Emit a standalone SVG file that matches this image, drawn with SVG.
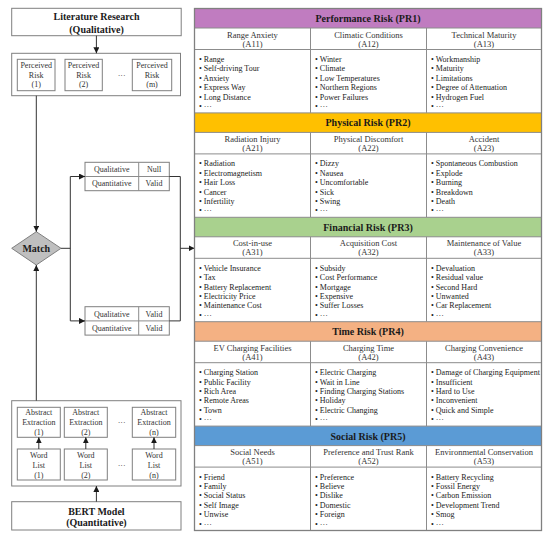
<svg xmlns="http://www.w3.org/2000/svg" width="550" height="538" viewBox="0 0 550 538">
<defs>
<marker id="ah" markerUnits="userSpaceOnUse" markerWidth="6" markerHeight="6" refX="6" refY="3" orient="auto"><path d="M0,0 L6,3 L0,6 z" fill="#1a1a1a"/></marker>
<style>
text{font-family:"Liberation Serif","Times New Roman",serif;fill:#1a1a1a}
.bx{fill:#fff;stroke:#7f7f7f;stroke-width:1}
.ln{stroke:#8c8c8c;stroke-width:1;fill:none}
.cn{stroke:#333;stroke-width:1;fill:none}
.ar{stroke:#333;stroke-width:1;fill:none;marker-end:url(#ah)}
.b10{font-size:10px;font-weight:bold;text-anchor:middle}
.s8{font-size:8px;text-anchor:middle;fill:#333}
.sh{font-size:8.5px;text-anchor:middle;fill:#333}
.it{font-size:8px;fill:#222}
.hd{stroke:#8c8c8c;stroke-width:1}
</style>
</defs>
<rect width="550" height="538" fill="#fff"/>

<!-- Left side nodes -->
<g id="literature">
<rect class="bx" x="11.7" y="8.3" width="169.5" height="27.4"/>
<text class="b10" x="96.5" y="20.2">Literature Research</text>
<text class="b10" x="96.5" y="32.5">(Qualitative)</text>
</g>
<g id="perceived">
<rect class="bx" x="11.7" y="53.3" width="168.8" height="42.4"/>
<rect class="bx" x="17.3" y="59.3" width="37.7" height="31.4"/>
<text class="s8" x="36.2" y="67.8">Perceived</text><text class="s8" x="36.2" y="77.5">Risk</text><text class="s8" x="36.2" y="87.1">(1)</text>
<rect class="bx" x="65" y="59.3" width="37.3" height="31.4"/>
<text class="s8" x="83.6" y="67.8">Perceived</text><text class="s8" x="83.6" y="77.5">Risk</text><text class="s8" x="83.6" y="87.1">(2)</text>
<text class="s8" x="121.7" y="77.5">···</text>
<rect class="bx" x="132.3" y="59.3" width="39.4" height="31.4"/>
<text class="s8" x="152" y="67.8">Perceived</text><text class="s8" x="152" y="77.5">Risk</text><text class="s8" x="152" y="87.1">(m)</text>
</g>
<g id="match">
<polygon points="36.3,231.7 61,248.3 36.3,265 11.7,248.3" fill="#bfbfbf" stroke="#7f7f7f" stroke-width="1"/>
<text class="b10" x="36.3" y="251.8">Match</text>
</g>
<g id="result1">
<rect class="bx" x="85" y="162.3" width="84.3" height="28.4"/>
<line class="ln" x1="85" y1="176.5" x2="169.3" y2="176.5"/>
<line class="ln" x1="138.7" y1="162.3" x2="138.7" y2="190.7"/>
<text class="s8" x="111.8" y="172.2">Qualitative</text><text class="s8" x="154" y="172.2">Null</text>
<text class="s8" x="111.8" y="186.4">Quantitative</text><text class="s8" x="154" y="186.4">Valid</text>
</g>
<g id="result2">
<rect class="bx" x="85" y="306.7" width="84.3" height="28.4"/>
<line class="ln" x1="85" y1="320.9" x2="169.3" y2="320.9"/>
<line class="ln" x1="138.7" y1="306.7" x2="138.7" y2="335.1"/>
<text class="s8" x="111.8" y="316.6">Qualitative</text><text class="s8" x="154" y="316.6">Valid</text>
<text class="s8" x="111.8" y="330.8">Quantitative</text><text class="s8" x="154" y="330.8">Valid</text>
</g>
<g id="extraction">
<rect class="bx" x="11.7" y="400.7" width="169.3" height="85.3"/>
<rect class="bx" x="17.3" y="407.3" width="43" height="30"/>
<text class="s8" x="38.8" y="414.5">Abstract</text><text class="s8" x="38.8" y="424.5">Extraction</text><text class="s8" x="38.8" y="434.5">(1)</text>
<rect class="bx" x="64.3" y="407.3" width="43" height="30"/>
<text class="s8" x="85.8" y="414.5">Abstract</text><text class="s8" x="85.8" y="424.5">Extraction</text><text class="s8" x="85.8" y="434.5">(2)</text>
<text class="s8" x="121.7" y="424.5">···</text>
<rect class="bx" x="132.3" y="407.3" width="43.4" height="30"/>
<text class="s8" x="154" y="414.5">Abstract</text><text class="s8" x="154" y="424.5">Extraction</text><text class="s8" x="154" y="434.5">(n)</text>
<rect class="bx" x="17.3" y="449" width="43" height="31"/>
<text class="s8" x="38.8" y="457.8">Word</text><text class="s8" x="38.8" y="467.8">List</text><text class="s8" x="38.8" y="477.8">(1)</text>
<rect class="bx" x="64.3" y="449" width="43" height="31"/>
<text class="s8" x="85.8" y="457.8">Word</text><text class="s8" x="85.8" y="467.8">List</text><text class="s8" x="85.8" y="477.8">(2)</text>
<text class="s8" x="121.7" y="467.8">···</text>
<rect class="bx" x="132.3" y="449" width="43.4" height="31"/>
<text class="s8" x="154" y="457.8">Word</text><text class="s8" x="154" y="467.8">List</text><text class="s8" x="154" y="477.8">(n)</text>
</g>
<g id="bert">
<rect class="bx" x="11.7" y="501.7" width="169.3" height="28.3"/>
<text class="b10" x="96.4" y="514.5">BERT Model</text>
<text class="b10" x="96.4" y="526.2">(Quantitative)</text>
</g>

<!-- Connectors -->
<g id="connectors">
<line class="ar" x1="96.4" y1="35.7" x2="96.4" y2="53.3"/>
<line class="ar" x1="36.3" y1="95.7" x2="36.3" y2="231.7"/>
<line class="ar" x1="36.3" y1="400.7" x2="36.3" y2="265"/>
<polyline class="cn" points="61,248.3 70.3,248.3"/>
<line class="cn" x1="70.3" y1="176.5" x2="70.3" y2="320.9"/>
<line class="ar" x1="70.3" y1="176.5" x2="85" y2="176.5"/>
<line class="ar" x1="70.3" y1="320.9" x2="85" y2="320.9"/>
<polyline class="cn" points="169.3,176.5 180.3,176.5 180.3,320.9 169.3,320.9"/>
<line class="ar" x1="180.3" y1="248.3" x2="194.5" y2="248.3"/>
<line class="ar" x1="38.8" y1="449" x2="38.8" y2="437.3"/>
<line class="ar" x1="85.8" y1="449" x2="85.8" y2="437.3"/>
<line class="ar" x1="154" y1="449" x2="154" y2="437.3"/>
<line class="ar" x1="96.4" y1="501.7" x2="96.4" y2="486"/>
</g>

<!-- Right table -->
<g id="pr1" transform="translate(0,8.5)">
<rect class="hd" x="194.5" y="0" width="347" height="19.5" fill="#c07cc0"/>
<line class="ln" x1="194.5" y1="41" x2="541.5" y2="41"/>
<line class="ln" x1="310.5" y1="19.5" x2="310.5" y2="104.4"/>
<line class="ln" x1="426.5" y1="19.5" x2="426.5" y2="104.4"/>
<text class="b10" x="368" y="13.5">Performance Risk (PR1)</text>
<text class="sh" x="252.5" y="29">Range Anxiety</text><text class="sh" x="252.5" y="38">(A11)</text>
<text class="sh" x="368.5" y="29">Climatic Conditions</text><text class="sh" x="368.5" y="38">(A12)</text>
<text class="sh" x="484" y="29">Technical Maturity</text><text class="sh" x="484" y="38">(A13)</text>
<text class="it"><tspan x="199" y="53.5">• Range</tspan><tspan x="199" dy="9.4">• Self-driving Tour</tspan><tspan x="199" dy="9.4">• Anxiety</tspan><tspan x="199" dy="9.4">• Express Way</tspan><tspan x="199" dy="9.4">• Long Distance</tspan><tspan x="199" dy="9.4">• ···</tspan></text>
<text class="it"><tspan x="315" y="53.5">• Winter</tspan><tspan x="315" dy="9.4">• Climate</tspan><tspan x="315" dy="9.4">• Low Temperatures</tspan><tspan x="315" dy="9.4">• Northern Regions</tspan><tspan x="315" dy="9.4">• Power Failures</tspan><tspan x="315" dy="9.4">• ···</tspan></text>
<text class="it"><tspan x="431" y="53.5">• Workmanship</tspan><tspan x="431" dy="9.4">• Maturity</tspan><tspan x="431" dy="9.4">• Limitations</tspan><tspan x="431" dy="9.4">• Degree of Attenuation</tspan><tspan x="431" dy="9.4">• Hydrogen Fuel</tspan><tspan x="431" dy="9.4">• ···</tspan></text>
</g>
<g id="pr2" transform="translate(0,112.9)">
<rect class="hd" x="194.5" y="0" width="347" height="19.5" fill="#ffc000"/>
<line class="ln" x1="194.5" y1="41" x2="541.5" y2="41"/>
<line class="ln" x1="310.5" y1="19.5" x2="310.5" y2="104.4"/>
<line class="ln" x1="426.5" y1="19.5" x2="426.5" y2="104.4"/>
<text class="b10" x="368" y="13.5">Physical Risk (PR2)</text>
<text class="sh" x="252.5" y="29">Radiation Injury</text><text class="sh" x="252.5" y="38">(A21)</text>
<text class="sh" x="368.5" y="29">Physical Discomfort</text><text class="sh" x="368.5" y="38">(A22)</text>
<text class="sh" x="484" y="29">Accident</text><text class="sh" x="484" y="38">(A23)</text>
<text class="it"><tspan x="199" y="53.5">• Radiation</tspan><tspan x="199" dy="9.4">• Electromagnetism</tspan><tspan x="199" dy="9.4">• Hair Loss</tspan><tspan x="199" dy="9.4">• Cancer</tspan><tspan x="199" dy="9.4">• Infertility</tspan><tspan x="199" dy="9.4">• ···</tspan></text>
<text class="it"><tspan x="315" y="53.5">• Dizzy</tspan><tspan x="315" dy="9.4">• Nausea</tspan><tspan x="315" dy="9.4">• Uncomfortable</tspan><tspan x="315" dy="9.4">• Sick</tspan><tspan x="315" dy="9.4">• Swing</tspan><tspan x="315" dy="9.4">• ···</tspan></text>
<text class="it"><tspan x="431" y="53.5">• Spontaneous Combustion</tspan><tspan x="431" dy="9.4">• Explode</tspan><tspan x="431" dy="9.4">• Burning</tspan><tspan x="431" dy="9.4">• Breakdown</tspan><tspan x="431" dy="9.4">• Death</tspan><tspan x="431" dy="9.4">• ···</tspan></text>
</g>
<g id="pr3" transform="translate(0,217.3)">
<rect class="hd" x="194.5" y="0" width="347" height="19.5" fill="#a9d18e"/>
<line class="ln" x1="194.5" y1="41" x2="541.5" y2="41"/>
<line class="ln" x1="310.5" y1="19.5" x2="310.5" y2="104.4"/>
<line class="ln" x1="426.5" y1="19.5" x2="426.5" y2="104.4"/>
<text class="b10" x="368" y="13.5">Financial Risk (PR3)</text>
<text class="sh" x="252.5" y="29">Cost-in-use</text><text class="sh" x="252.5" y="38">(A31)</text>
<text class="sh" x="368.5" y="29">Acquisition Cost</text><text class="sh" x="368.5" y="38">(A32)</text>
<text class="sh" x="484" y="29">Maintenance of Value</text><text class="sh" x="484" y="38">(A33)</text>
<text class="it"><tspan x="199" y="53.5">• Vehicle Insurance</tspan><tspan x="199" dy="9.4">• Tax</tspan><tspan x="199" dy="9.4">• Battery Replacement</tspan><tspan x="199" dy="9.4">• Electricity Price</tspan><tspan x="199" dy="9.4">• Maintenance Cost</tspan><tspan x="199" dy="9.4">• ···</tspan></text>
<text class="it"><tspan x="315" y="53.5">• Subsidy</tspan><tspan x="315" dy="9.4">• Cost Performance</tspan><tspan x="315" dy="9.4">• Mortgage</tspan><tspan x="315" dy="9.4">• Expensive</tspan><tspan x="315" dy="9.4">• Suffer Losses</tspan><tspan x="315" dy="9.4">• ···</tspan></text>
<text class="it"><tspan x="431" y="53.5">• Devaluation</tspan><tspan x="431" dy="9.4">• Residual value</tspan><tspan x="431" dy="9.4">• Second Hard</tspan><tspan x="431" dy="9.4">• Unwanted</tspan><tspan x="431" dy="9.4">• Car Replacement</tspan><tspan x="431" dy="9.4">• ···</tspan></text>
</g>
<g id="pr4" transform="translate(0,321.7)">
<rect class="hd" x="194.5" y="0" width="347" height="19.5" fill="#f4b183"/>
<line class="ln" x1="194.5" y1="41" x2="541.5" y2="41"/>
<line class="ln" x1="310.5" y1="19.5" x2="310.5" y2="104.4"/>
<line class="ln" x1="426.5" y1="19.5" x2="426.5" y2="104.4"/>
<text class="b10" x="368" y="13.5">Time Risk (PR4)</text>
<text class="sh" x="252.5" y="29">EV Charging Facilities</text><text class="sh" x="252.5" y="38">(A41)</text>
<text class="sh" x="368.5" y="29">Charging Time</text><text class="sh" x="368.5" y="38">(A42)</text>
<text class="sh" x="484" y="29">Charging Convenience</text><text class="sh" x="484" y="38">(A43)</text>
<text class="it"><tspan x="199" y="53.5">• Charging Station</tspan><tspan x="199" dy="9.4">• Public Facility</tspan><tspan x="199" dy="9.4">• Rich Area</tspan><tspan x="199" dy="9.4">• Remote Areas</tspan><tspan x="199" dy="9.4">• Town</tspan><tspan x="199" dy="9.4">• ···</tspan></text>
<text class="it"><tspan x="315" y="53.5">• Electric Charging</tspan><tspan x="315" dy="9.4">• Wait in Line</tspan><tspan x="315" dy="9.4">• Finding Charging Stations</tspan><tspan x="315" dy="9.4">• Holiday</tspan><tspan x="315" dy="9.4">• Electric Changing</tspan><tspan x="315" dy="9.4">• ···</tspan></text>
<text class="it"><tspan x="431" y="53.5">• Damage of Charging Equipment</tspan><tspan x="431" dy="9.4">• Insufficient</tspan><tspan x="431" dy="9.4">• Hard to Use</tspan><tspan x="431" dy="9.4">• Inconvenient</tspan><tspan x="431" dy="9.4">• Quick and Simple</tspan><tspan x="431" dy="9.4">• ···</tspan></text>
</g>
<g id="pr5" transform="translate(0,426.1)">
<rect class="hd" x="194.5" y="0" width="347" height="19.5" fill="#5b9bd5"/>
<line class="ln" x1="194.5" y1="41" x2="541.5" y2="41"/>
<line class="ln" x1="310.5" y1="19.5" x2="310.5" y2="104.4"/>
<line class="ln" x1="426.5" y1="19.5" x2="426.5" y2="104.4"/>
<text class="b10" x="368" y="13.5">Social Risk (PR5)</text>
<text class="sh" x="252.5" y="29">Social Needs</text><text class="sh" x="252.5" y="38">(A51)</text>
<text class="sh" x="368.5" y="29">Preference and Trust Rank</text><text class="sh" x="368.5" y="38">(A52)</text>
<text class="sh" x="484" y="29">Environmental Conservation</text><text class="sh" x="484" y="38">(A53)</text>
<text class="it"><tspan x="199" y="53.5">• Friend</tspan><tspan x="199" dy="9.4">• Family</tspan><tspan x="199" dy="9.4">• Social Status</tspan><tspan x="199" dy="9.4">• Self Image</tspan><tspan x="199" dy="9.4">• Unwise</tspan><tspan x="199" dy="9.4">• ···</tspan></text>
<text class="it"><tspan x="315" y="53.5">• Preference</tspan><tspan x="315" dy="9.4">• Believe</tspan><tspan x="315" dy="9.4">• Dislike</tspan><tspan x="315" dy="9.4">• Domestic</tspan><tspan x="315" dy="9.4">• Foreign</tspan><tspan x="315" dy="9.4">• ···</tspan></text>
<text class="it"><tspan x="431" y="53.5">• Battery Recycling</tspan><tspan x="431" dy="9.4">• Fossil Energy</tspan><tspan x="431" dy="9.4">• Carbon Emission</tspan><tspan x="431" dy="9.4">• Development Trend</tspan><tspan x="431" dy="9.4">• Smog</tspan><tspan x="431" dy="9.4">• ···</tspan></text>
</g>
<rect x="194.5" y="8.5" width="347" height="522" fill="none" stroke="#808080" stroke-width="1.3"/>
</svg>
